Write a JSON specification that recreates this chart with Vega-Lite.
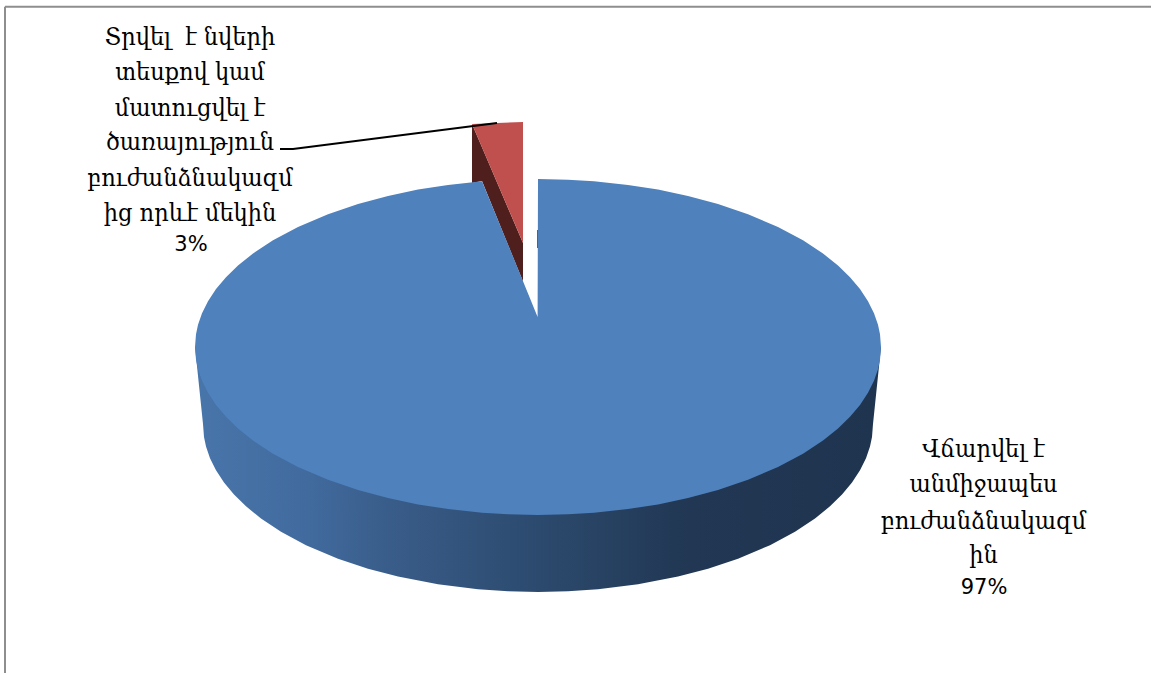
{
  "$schema": "https://vega.github.io/schema/vega-lite/v6.json",
  "width": 1151,
  "height": 673,
  "padding": 0,
  "autosize": {"type": "none"},
  "background": "#ffffff",
  "view": {"stroke": null},
  "datasets": {
    "side": [
      {"x":195,"y":347,"y2":347},{"x":203,"y":347,"y2":424},{"x":204,"y":347,"y2":437},{"x":206,"y":347,"y2":446.4},{"x":210,"y":347,"y2":458.2},
      {"x":216,"y":347,"y2":470.3},{"x":224,"y":347,"y2":482.5},{"x":234,"y":347,"y2":494.6},{"x":246,"y":347,"y2":506.3},{"x":261,"y":347,"y2":518.5},
      {"x":281,"y":347,"y2":531.8},{"x":306,"y":347,"y2":545.2},{"x":338,"y":347,"y2":558.8},{"x":368,"y":347,"y2":568.8},{"x":398,"y":347,"y2":576.6},
      {"x":438,"y":347,"y2":584.3},{"x":478,"y":347,"y2":589.3},{"x":508,"y":347,"y2":591.3},{"x":538,"y":347,"y2":592},{"x":568,"y":347,"y2":591.3},
      {"x":598,"y":347,"y2":589.3},{"x":638,"y":347,"y2":584.3},{"x":678,"y":347,"y2":576.6},{"x":708,"y":347,"y2":568.8},{"x":738,"y":347,"y2":558.8},
      {"x":770,"y":347,"y2":545.2},{"x":795,"y":347,"y2":531.8},{"x":815,"y":347,"y2":518.5},{"x":830,"y":347,"y2":506.3},{"x":842,"y":347,"y2":494.6},
      {"x":852,"y":347,"y2":482.5},{"x":860,"y":347,"y2":470.3},{"x":866,"y":347,"y2":458.2},{"x":870,"y":347,"y2":446.4},{"x":872,"y":347,"y2":437},
      {"x":873,"y":347,"y2":424},{"x":881,"y":347,"y2":347}
    ],
    "cut": [
      {"x":472,"y":124,"y2":183},{"x":482,"y":147.3,"y2":181},{"x":523,"y":243,"y2":281.6}
    ],
    "red": [
      {"x":472,"y":124,"y2":124},{"x":523,"y":122,"y2":243}
    ],
    "face": [
      {"x":195,"y":347,"y2":347},{"x":196,"y":334.2,"y2":359.8},{"x":198,"y":324.8,"y2":369.2},{"x":202,"y":313.2,"y2":380.8},{"x":208,"y":301.2,"y2":392.8},
      {"x":216,"y":289.1,"y2":404.9},{"x":226,"y":277.2,"y2":416.8},{"x":238,"y":265.6,"y2":428.4},{"x":253,"y":253.5,"y2":440.5},{"x":273,"y":240.3,"y2":453.7},
      {"x":298,"y":227,"y2":467},{"x":328,"y":214.2,"y2":479.8},{"x":358,"y":204,"y2":490},{"x":388,"y":195.9,"y2":498.1},{"x":418,"y":189.6,"y2":504.4},
      {"x":448,"y":184.9,"y2":509.1},{"x":482,"y":181.3,"y2":512.7},{"x":508,"y":244.4,"y2":514.3},{"x":537.6,"y":317,"y2":515},{"x":538,"y":179,"y2":515},
      {"x":568,"y":179.7,"y2":514.3},{"x":594,"y":181.3,"y2":512.7},{"x":628,"y":184.9,"y2":509.1},{"x":658,"y":189.6,"y2":504.4},{"x":688,"y":195.9,"y2":498.1},
      {"x":718,"y":204,"y2":490},{"x":748,"y":214.2,"y2":479.8},{"x":778,"y":227,"y2":467},{"x":803,"y":240.3,"y2":453.7},{"x":823,"y":253.5,"y2":440.5},
      {"x":838,"y":265.6,"y2":428.4},{"x":850,"y":277.2,"y2":416.8},{"x":860,"y":289.1,"y2":404.9},{"x":868,"y":301.2,"y2":392.8},{"x":874,"y":313.2,"y2":380.8},
      {"x":878,"y":324.8,"y2":369.2},{"x":880,"y":334.2,"y2":359.8},{"x":881,"y":347,"y2":347}
    ],
    "edge": [
      {"x":537.5,"y":230,"y2":248}
    ],
    "leader": [
      {"x":280,"y":149},{"x":293,"y":149},{"x":497,"y":123}
    ],
    "frame": [
      {"x":5,"y":6.8,"x2":1151,"y2":6.8},
      {"x":5,"y":6.8,"x2":5,"y2":673}
    ],
    "labels": [
      {"x":190,"y":37,"text":"Տրվել\u00a0\u00a0է նվերի"},
      {"x":190,"y":72,"text":"տեսքով կամ"},
      {"x":190,"y":108,"text":"մատուցվել է"},
      {"x":190,"y":142,"text":"ծառայություն"},
      {"x":190,"y":178,"text":"բուժանձնակազմ"},
      {"x":190,"y":213,"text":"ից որևէ մեկին"},
      {"x":983.5,"y":449,"text":"Վճարվել է"},
      {"x":983.5,"y":484,"text":"անմիջապես"},
      {"x":983.5,"y":521,"text":"բուժանձնակազմ"},
      {"x":983.5,"y":555,"text":"ին"}
    ],
    "shares": [
      {"x":191,"y":245,"share":0.03},
      {"x":984,"y":588,"share":0.97}
    ]
  },
  "encoding": {
    "x": {"field": "x", "type": "quantitative", "scale": {"domain": [0, 1151]}, "axis": null},
    "y": {"field": "y", "type": "quantitative", "scale": {"domain": [673, 0]}, "axis": null}
  },
  "layer": [
    {
      "data": {"name": "frame"},
      "mark": {"type": "rule", "stroke": "#8e8e8e", "strokeWidth": 2},
      "encoding": {"x2": {"field": "x2"}, "y2": {"field": "y2"}}
    },
    {
      "data": {"name": "side"},
      "mark": {
        "type": "area",
        "color": {
          "gradient": "linear", "x1": 0, "y1": 0, "x2": 1, "y2": 0,
          "stops": [
            {"offset": 0, "color": "#4875aa"},
            {"offset": 0.15, "color": "#426ca0"},
            {"offset": 0.3, "color": "#385b87"},
            {"offset": 0.5, "color": "#2c4a6e"},
            {"offset": 0.72, "color": "#213753"},
            {"offset": 1, "color": "#1f344f"}
          ]
        }
      },
      "encoding": {"y2": {"field": "y2"}}
    },
    {
      "data": {"name": "cut"},
      "mark": {"type": "area", "color": "#4f1f1e"},
      "encoding": {"y2": {"field": "y2"}}
    },
    {
      "data": {"name": "red"},
      "mark": {"type": "area", "color": "#c0504d"},
      "encoding": {"y2": {"field": "y2"}}
    },
    {
      "data": {"name": "face"},
      "mark": {"type": "area", "color": "#4f81bd"},
      "encoding": {"y2": {"field": "y2"}}
    },
    {
      "data": {"name": "edge"},
      "mark": {"type": "rule", "stroke": "#3f6695", "strokeWidth": 1},
      "encoding": {"y2": {"field": "y2"}}
    },
    {
      "data": {"name": "leader"},
      "mark": {"type": "line", "color": "#000000", "strokeWidth": 1.8}
    },
    {
      "data": {"name": "labels"},
      "mark": {"type": "text", "font": "DejaVu Serif Condensed", "fontSize": 25, "color": "#000000", "align": "center", "baseline": "middle"},
      "encoding": {"text": {"field": "text"}}
    },
    {
      "data": {"name": "shares"},
      "mark": {"type": "text", "font": "DejaVu Sans", "fontSize": 21, "color": "#000000", "align": "center", "baseline": "middle"},
      "encoding": {"text": {"field": "share", "type": "quantitative", "format": ".0%"}}
    }
  ]
}
